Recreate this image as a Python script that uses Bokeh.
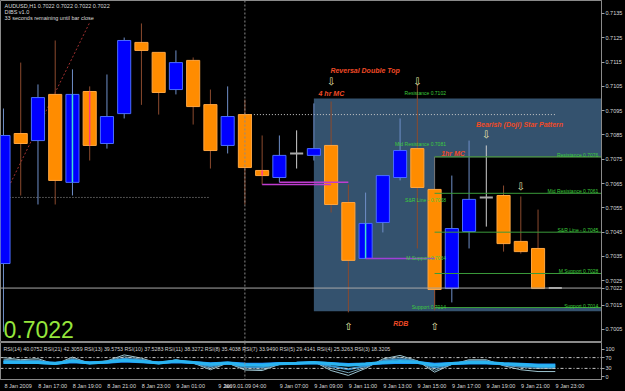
from bokeh.plotting import figure
from bokeh.layouts import column
from bokeh.models import (ColumnDataSource, Range1d, FixedTicker, Label, Span,
                          NumeralTickFormatter)
from bokeh.core.properties import value
from bokeh.embed import file_html
from bokeh.resources import INLINE

# ---------------- data (AUDUSD H1) ----------------
opens  = [0.70321, 0.70856, 0.70827, 0.71017, 0.70655, 0.71029, 0.70815, 0.70938, 0.71231, 0.71190,
          0.71037, 0.71157, 0.70975, 0.70807, 0.70934, 0.70704, 0.70675, 0.70774, 0.70766, 0.70807,
          0.70572, 0.70342, 0.70490, 0.70675, 0.70794, 0.70626, 0.70218, 0.70453, 0.70593, 0.70601,
          0.70412, 0.70383, 0.70220]
highs  = [0.70959, 0.71148, 0.71058, 0.71239, 0.71120, 0.71050, 0.71099, 0.71251, 0.71309, 0.71190,
          0.71198, 0.71169, 0.71037, 0.71050, 0.70996, 0.70848, 0.70848, 0.70869, 0.70980, 0.70988,
          0.70646, 0.70613, 0.70683, 0.70918, 0.71062, 0.70626, 0.70683, 0.70827, 0.70807, 0.70642,
          0.70597, 0.70543, 0.70220]
lows   = [0.70040, 0.70601, 0.70564, 0.70564, 0.70601, 0.70745, 0.70794, 0.70918, 0.70974, 0.70934,
          0.71017, 0.70893, 0.70712, 0.70774, 0.70564, 0.70646, 0.70655, 0.70712, 0.70745, 0.70531,
          0.70120, 0.70342, 0.70449, 0.70663, 0.70383, 0.70128, 0.70161, 0.70383, 0.70473, 0.70370,
          0.70362, 0.70218, 0.70220]
closes = [0.70848, 0.70815, 0.71004, 0.70663, 0.71017, 0.70807, 0.70926, 0.71239, 0.71198, 0.71025,
          0.71148, 0.70967, 0.70786, 0.70926, 0.70716, 0.70683, 0.70766, 0.70774, 0.70794, 0.70564,
          0.70334, 0.70486, 0.70683, 0.70786, 0.70634, 0.70214, 0.70465, 0.70585, 0.70593, 0.70403,
          0.70370, 0.70218, 0.70220]

# time labels ("9 Jan 03:00" is mostly hidden behind the crosshair box -> only "9 Jan" shows)
time_tick_idx = [0, 2, 4, 6, 8, 10, 12, 16, 18, 20, 22, 24, 26, 28, 30, 32]
time_tick_labels = ["8 Jan 2009", "8 Jan 17:00", "8 Jan 19:00", "8 Jan 21:00", "8 Jan 23:00",
                    "9 Jan 01:00", "9 Jan", "9 Jan 07:00", "9 Jan 09:00",
                    "9 Jan 11:00", "9 Jan 13:00", "9 Jan 15:00", "9 Jan 17:00", "9 Jan 19:00",
                    "9 Jan 21:00", "9 Jan 23:00"]
price_ticks = [0.7005, 0.7015, 0.7025, 0.7035, 0.7045, 0.7055, 0.7065, 0.7075,
               0.7085, 0.7095, 0.7105, 0.7115, 0.7125, 0.7135]
bid = 0.7022

# RSI family (estimated from the lower panel)
rsi21 = [52, 52, 52, 49, 55, 51, 53, 57, 55, 51, 55, 52, 47, 50, 46, 45, 48, 49, 51, 48, 44, 46, 50, 53, 52, 45, 48, 50, 50, 47, 45, 42.5, 42.3]
rsi14 = [53, 53, 52, 48, 57, 50, 54, 60, 56, 50, 57, 52, 45, 50, 43, 42, 47, 49, 52, 47, 42, 46, 52, 56, 53, 42, 48, 52, 52, 47, 44, 40.2, 40.1]
rsi8  = [58, 56, 57, 46, 62, 49, 56, 66, 60, 49, 59, 51, 38, 50, 35, 34, 46, 48, 53, 38, 27, 39, 57, 64, 56, 32, 46, 56, 56, 44, 39, 35.5, 35.4]
rsi5  = [64, 59, 61, 45, 67, 48, 57, 73, 64, 48, 60, 50, 31, 50, 28, 27, 45, 48, 54, 30, 14, 34, 61, 71, 57, 23, 45, 59, 59, 42, 34, 29.5, 29.4]
rsi3  = [70, 62, 66, 45, 72, 48, 58, 80, 68, 48, 62, 50, 25, 50, 24, 22, 45, 48, 55, 22, 4, 30, 65, 78, 58, 16, 45, 62, 62, 40, 25, 18.4, 18.3]
rsi_levels = [30, 70]
rsi_ticks = [0, 30, 70, 100]
rsi_text = ("RSI(14) 40.0752  RSI(21) 42.3059  RSI(13) 39.5753  RSI(10) 37.5283  RSI(11) 38.3272  "
            "RSI(8) 35.4038  RSI(7) 33.9490  RSI(5) 29.4141  RSI(4) 25.3263  RSI(3) 18.3205")

# zones and levels
zone4h = dict(left=18, right=40, top=0.7100, bottom=0.70125)
zone1h = dict(left=25, right=40, top=0.7076, bottom=0.7014)
lvl_right_vals = [0.7076, 0.7061, 0.7045, 0.7028, 0.7014]
lvl_right_txt = ["Resistance 0.7076", "Mid Resistance 0.7061", "S&R Line - 0.7045",
                 "M.Support 0.7028", "Support 0.7014"]
lvl_left_vals = [0.7102, 0.7081, 0.7058, 0.7034, 0.7014]
lvl_left_txt = ["Resistance 0.7102", "Mid Resistance 0.7081", "S&R Line - 0.7058",
                "M.Support 0.7034", "Support 0.7014"]

# drawn lines on chart
mag_x0 = [15, 16, 21]
mag_x1 = [19, 20, 25]
mag_y = [0.70646, 0.70655, 0.70342]
mag_col = ["#c03cd0", "#c03cd0", "#a040d8"]
dot_x0 = [14, 0]
dot_x1 = [32, 12]
dot_y = [0.70934, 0.70593]
dot_col = ["#c8c8c8", "#9a9a9a"]
diag = dict(x0=0, y0=0.70593, x1=5, y1=0.71313)
cross_x = 14
cross_label = "2009.01.09 04:00"
hl_idx = [4, 5, 15, 21]
hl_col = ["#40e0d0", "#ff3a7a", "#ff3a9a", "#40e0d0"]

# pattern annotations
ann_txt = ["Reversal Double Top", "4 hr MC", "1hr MC", "Bearish (Doji) Star Pattern", "RDB"]
ann_x = [18.96, 18.27, 25.38, 27.4, 22.6]
ann_y = [0.71115, 0.71021, 0.70774, 0.70893, 0.70074]
arrow_dn_x = [19, 24, 28, 30]
arrow_dn_y = [0.71070, 0.71070, 0.70852, 0.70638]
arrow_up_x = [20, 25]
arrow_up_y = [0.70062, 0.70062]

# ---------------- build ----------------
FONT_NAME = "Liberation Sans"
FONT = value(FONT_NAME)
n = len(opens)
xs = list(range(n))
kind = ["bull" if c > o else ("bear" if c < o else "doji") for o, c in zip(opens, closes)]
fill_map = {"bull": "#0000ff", "bear": "#ff8c00", "doji": "#b8b8b8"}
edge_map = {"bull": "#4a6cff", "bear": "#ffa640", "doji": "#b8b8b8"}
wick_map = {"bull": "#6f8fc8", "bear": "#8b4a2e", "doji": "#cfcfcf"}

src = ColumnDataSource(dict(
    x=xs, o=opens, h=highs, l=lows, c=closes,
    top=[max(a, b) for a, b in zip(opens, closes)],
    bot=[min(a, b) for a, b in zip(opens, closes)],
    fill=[fill_map[k] for k in kind], edge=[edge_map[k] for k in kind],
    wick=[wick_map[k] for k in kind]))
bull_bear = [i for i, k in enumerate(kind) if k != "doji"]
doji = [i for i, k in enumerate(kind) if k == "doji"]
body_src = ColumnDataSource({k: [src.data[k][i] for i in bull_bear] for k in src.data})
doji_src = ColumnDataSource({k: [src.data[k][i] for i in doji] for k in src.data})

xr = Range1d(-0.173, 34.68)
yr = Range1d(0.69996, 0.714035)


def style_axis(ax):
    ax.major_label_text_font = FONT_NAME
    ax.major_label_text_font_size = "5.5px"
    ax.major_label_text_color = "#d8d8d8"
    ax.major_tick_in = 0
    ax.major_tick_line_color = "#a0a0a0"
    ax.minor_tick_line_color = None
    ax.axis_line_color = "#8a8a8a"


p = figure(width=625, height=342, x_range=xr, y_range=yr, output_backend="svg",
           toolbar_location=None, x_axis_location=None, y_axis_location="right",
           background_fill_color="black", border_fill_color="black",
           outline_line_color="#8a8a8a", min_border=0, min_border_right=22)
p.grid.visible = False
ya = p.yaxis[0]
ya.ticker = FixedTicker(ticks=price_ticks + [bid])
ya.formatter = NumeralTickFormatter(format="0.0000")
style_axis(ya)
ya.major_tick_out = 3
ya.major_label_standoff = 1

# zones
p.quad(left=[zone4h["left"]], right=[zone4h["right"]], top=[zone4h["top"]], bottom=[zone4h["bottom"]],
       fill_color="#34526e", line_color=None)
p.quad(left=[zone1h["left"]], right=[zone1h["right"]], top=[zone1h["top"]], bottom=[zone1h["bottom"]],
       fill_color="black", line_color="#7a7a7a", line_width=1)

# dotted lines
p.segment(x0=dot_x0, x1=dot_x1, y0=dot_y, y1=dot_y, line_color=dot_col, line_dash="1 2", line_width=1)
p.segment(x0=[diag["x0"]], y0=[diag["y0"]], x1=[diag["x1"]], y1=[diag["y1"]],
          line_color="#a03030", line_dash="2 2", line_width=1)

# candles
p.segment(x0="x", x1="x", y0="h", y1="l", line_color="wick", line_width=1, source=src)
p.vbar(x="x", width=0.76, top="top", bottom="bot", fill_color="fill", line_color="edge",
       line_width=1, source=body_src)
p.segment(x0=[x - 0.38 for x in doji_src.data["x"]], x1=[x + 0.38 for x in doji_src.data["x"]],
          y0=doji_src.data["o"], y1=doji_src.data["c"], line_color="#a8a8a8", line_width=2)
p.segment(x0=hl_idx, x1=hl_idx, y0=[opens[i] for i in hl_idx], y1=[closes[i] for i in hl_idx],
          line_color=hl_col, line_width=1.5)

# magenta lines
p.segment(x0=mag_x0, x1=mag_x1, y0=mag_y, y1=mag_y, line_color=mag_col, line_width=1.5)

# level lines and labels
p.segment(x0=[zone1h["left"]] * len(lvl_right_vals), x1=[zone1h["right"]] * len(lvl_right_vals),
          y0=lvl_right_vals, y1=lvl_right_vals, line_color="#3a9a3a", line_width=1)
p.text(x=[34.5] * len(lvl_right_vals), y=lvl_right_vals, text=lvl_right_txt, text_align="right",
       text_baseline="bottom", y_offset=1, text_font=FONT, text_font_size="5px", text_color="#3ccc3c")
p.text(x=[25.66] * len(lvl_left_vals), y=lvl_left_vals, text=lvl_left_txt, text_align="right",
       text_baseline="bottom", y_offset=2, text_font=FONT, text_font_size="5px", text_color="#3ccc3c")

# bid line and crosshair
p.add_layout(Span(location=bid, dimension="width", line_color="#a8a8a8", line_width=1))
p.add_layout(Span(location=cross_x, dimension="height", line_color="#8a8a8a", line_dash="2 2", line_width=1))

# annotations
p.text(x=ann_x, y=ann_y, text=ann_txt, text_align="left", text_baseline="middle",
       text_font=FONT, text_font_style="bold italic", text_font_size="7px", text_color="#f04a26")
p.text(x=arrow_dn_x, y=arrow_dn_y, text=["\u21e9"] * len(arrow_dn_x), text_align="center",
       text_baseline="middle", text_font=value("DejaVu Sans"), text_font_size="10px", text_color="#ececb0")
p.text(x=arrow_up_x, y=arrow_up_y, text=["\u21e7"] * len(arrow_up_x), text_align="center",
       text_baseline="middle", text_font=value("DejaVu Sans"), text_font_size="10px", text_color="#ececb0")

# header texts
hdr = ["AUDUSD,H1  %.4f %.4f %.4f %.4f" % (opens[-1], highs[-1], lows[-1], closes[-1]),
       "DIBS v1.0", "33 seconds remaining until bar close"]
for k, t in enumerate(hdr):
    p.add_layout(Label(x=xr.start, y=yr.end, x_offset=4, y_offset=-2 - 6 * k, text=t,
                       text_baseline="top", text_font=FONT_NAME, text_font_size="5.5px",
                       text_color="#dcdcdc"))
p.add_layout(Label(x=xr.start, y=yr.start, x_offset=3, y_offset=5, text="%.4f" % bid,
                   text_baseline="bottom", text_font=FONT_NAME, text_font_size="23px",
                   text_color="#96e63c"))

# ---------------- RSI panel ----------------
r = figure(width=625, height=49, x_range=xr, y_range=Range1d(-11.1, 125.9), output_backend="svg",
           toolbar_location=None, y_axis_location="right", x_axis_location="below",
           background_fill_color="black", border_fill_color="black",
           outline_line_color="#8a8a8a", min_border=0, min_border_right=22, min_border_bottom=12)
r.grid.visible = False
ry = r.yaxis[0]
ry.ticker = FixedTicker(ticks=rsi_ticks)
style_axis(ry)
ry.major_tick_out = 3
ry.major_label_standoff = 1
rx = r.xaxis[0]
label_shift = 0.85   # MT4 writes each time label to the right of its bar
shifted = [round(t + label_shift, 2) for t in time_tick_idx]
rx.ticker = FixedTicker(ticks=shifted + [cross_x])
overrides = {t: s for t, s in zip(shifted, time_tick_labels)}
overrides[cross_x] = cross_label
rx.major_label_overrides = overrides
style_axis(rx)
rx.major_tick_out = 0
rx.major_label_standoff = 3

for lv in rsi_levels:
    r.add_layout(Span(location=lv, dimension="width", line_color="#c8c8c8", line_dash="3 2 1 2", line_width=1))
r.add_layout(Span(location=cross_x, dimension="height", line_color="#8a8a8a", line_dash="2 2", line_width=1))
r.line(xs, rsi3, line_color="#9cc4d0", line_width=1)
r.line(xs, rsi5, line_color="#6f9fb4", line_width=1)
r.line(xs, rsi8, line_color="#3a90c8", line_width=2)
r.line(xs, rsi21, line_color="#1e90ff", line_width=3)
r.line(xs, rsi14, line_color="#2ab4f0", line_width=3)
r.add_layout(Label(x=xr.start, y=r.y_range.end, x_offset=3, y_offset=-3, text=rsi_text,
                   text_baseline="top", text_font=FONT_NAME, text_font_size="5.3px", text_color="#d0d0d0"))

layout = column(p, r, spacing=0, background="black")
open("out.html", "w").write(file_html(layout, INLINE))
